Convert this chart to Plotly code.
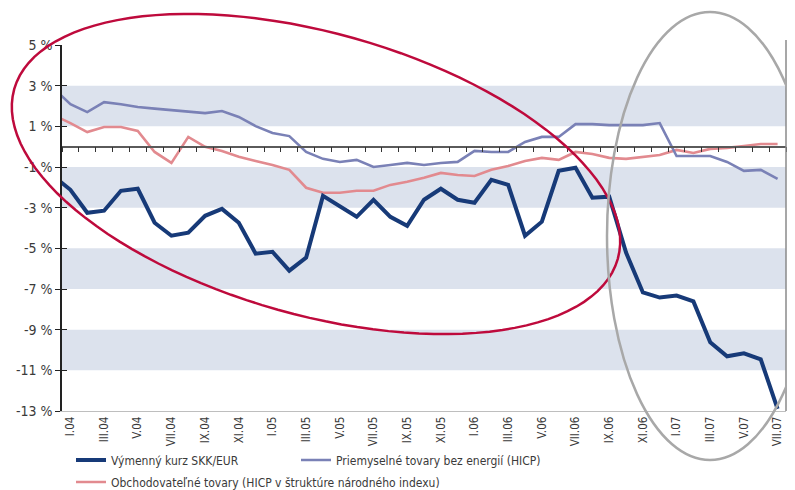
import numpy as np
import plotly.graph_objects as go

# ---------------- data ----------------
categories = ["XII.03",
              "I.04", "II.04", "III.04", "IV.04", "V.04", "VI.04", "VII.04", "VIII.04", "IX.04", "X.04", "XI.04", "XII.04",
              "I.05", "II.05", "III.05", "IV.05", "V.05", "VI.05", "VII.05", "VIII.05", "IX.05", "X.05", "XI.05", "XII.05",
              "I.06", "II.06", "III.06", "IV.06", "V.06", "VI.06", "VII.06", "VIII.06", "IX.06", "X.06", "XI.06", "XII.06",
              "I.07", "II.07", "III.07", "IV.07", "V.07", "VI.07", "VII.07"]

fx_skk_eur = [-1.45,
              -2.12, -3.25, -3.15, -2.17, -2.07, -3.74, -4.38, -4.23, -3.40, -3.06, -3.74, -5.26,
              -5.17, -6.10, -5.46, -2.42, -2.91, -3.45, -2.61, -3.45, -3.89, -2.61, -2.07, -2.61,
              -2.76, -1.63, -1.88, -4.38, -3.69, -1.19, -1.04, -2.51, -2.46, -5.21, -7.17, -7.42,
              -7.32, -7.61, -9.62, -10.31, -10.16, -10.46, -12.90]

industrial_goods = [2.87,
                    2.09, 1.70, 2.19, 2.09, 1.95, 1.87, 1.80, 1.73, 1.65, 1.75, 1.46, 1.01,
                    0.67, 0.52, -0.26, -0.60, -0.75, -0.65, -1.00, -0.90, -0.80, -0.90, -0.80, -0.75,
                    -0.21, -0.26, -0.26, 0.23, 0.48, 0.48, 1.11, 1.11, 1.06, 1.06, 1.06, 1.16,
                    -0.46, -0.46, -0.46, -0.75, -1.19, -1.14, -1.58]

tradable_goods = [1.55,
                  1.16, 0.72, 0.97, 0.97, 0.77, -0.26, -0.80, 0.48, -0.01, -0.21, -0.50, -0.70,
                  -0.90, -1.14, -2.02, -2.27, -2.27, -2.17, -2.17, -1.88, -1.73, -1.53, -1.29, -1.39,
                  -1.44, -1.14, -0.95, -0.70, -0.55, -0.65, -0.26, -0.36, -0.55, -0.60, -0.50, -0.41,
                  -0.16, -0.31, -0.11, -0.06, 0.03, 0.13, 0.13]

series_names = ["Výmenný kurz SKK/EUR",
                "Priemyselné tovary bez energií (HICP)",
                "Obchodovateľné tovary (HICP v štruktúre národného indexu)"]

y_ticks = [5, 3, 1, -1, -3, -5, -7, -9, -11, -13]
y_tick_labels = ["5 %", "3 %", "1 %", "-1 %", "-3 %", "-5 %", "-7 %", "-9 %", "-11 %", "-13 %"]
shaded_bands = [(1, 3), (-3, -1), (-7, -5), (-11, -9)]

# ---------------- figure ----------------
# page is 795x490; the html body adds an 8px margin, so the figure is 8px smaller
OFF = 8
W, H = 795 - OFF, 490 - OFF
PX_L, PX_R, PX_T, PX_B = 62, 786, 45, 411          # plot area in page pixels
L, R, T, B = PX_L - OFF, 795 - PX_R, PX_T - OFF, 490 - PX_B
pw, ph = PX_R - PX_L, PX_B - PX_T

FONT = "Liberation Sans Narrow, DejaVu Sans Condensed, Arial Narrow, sans-serif"
TXT = "#3a3a3a"

x_idx = list(range(-1, len(categories) - 1))
n_last = len(categories) - 2

fig = go.Figure()

fig.add_trace(go.Scatter(x=x_idx, y=tradable_goods, mode="lines", name=series_names[2],
                         line=dict(color="#E28A8F", width=2.6), legend="legend2"))
fig.add_trace(go.Scatter(x=x_idx, y=industrial_goods, mode="lines", name=series_names[1],
                         line=dict(color="#7A81B6", width=2.6), legend="legend3"))
fig.add_trace(go.Scatter(x=x_idx, y=fx_skk_eur, mode="lines", name=series_names[0],
                         line=dict(color="#173A78", width=4), legend="legend"))

# helper invisible traces to realise the zero-line axis and inner y ticks
fig.add_trace(go.Scatter(x=[0], y=[0], xaxis="x2", yaxis="y", mode="markers",
                         marker=dict(opacity=0), showlegend=False, hoverinfo="skip"))
fig.add_trace(go.Scatter(x=[0], y=[0], xaxis="x", yaxis="y2", mode="markers",
                         marker=dict(opacity=0), showlegend=False, hoverinfo="skip"))

xr = [-0.5, n_last + 0.5]
yr = [-13, 5]


def px2paper(px, py):
    return (px - PX_L) / pw, (PX_B - py) / ph


shapes = []
for lo, hi in shaded_bands:
    shapes.append(dict(type="rect", xref="paper", yref="y", x0=0, x1=1, y0=lo, y1=hi,
                       fillcolor="#DCE2ED", line=dict(width=0), layer="below"))
# right border line
shapes.append(dict(type="line", xref="paper", yref="paper", x0=1, x1=1,
                   y0=0, y1=px2paper(0, 40)[1], line=dict(color="#8a8a8a", width=1.5)))

# red tilted ellipse (annotation)
cx, cy, a, b, th = 316, 174, 313.5, 141, np.deg2rad(15.7)
t = np.linspace(0, 2 * np.pi, 121)
ex = cx + a * np.cos(t) * np.cos(th) - b * np.sin(t) * np.sin(th)
ey = cy + a * np.cos(t) * np.sin(th) + b * np.sin(t) * np.cos(th)
pts = [px2paper(u, v) for u, v in zip(ex, ey)]
path = "M " + " L ".join(f"{u:.5f},{v:.5f}" for u, v in pts) + " Z"
shapes.append(dict(type="path", xref="paper", yref="paper", path=path,
                   line=dict(color="#BE0A3C", width=2.5), layer="above"))

# gray ellipse (annotation)
gx0, gy0 = px2paper(607, 12)
gx1, gy1 = px2paper(813, 460)
shapes.append(dict(type="circle", xref="paper", yref="paper", x0=gx0, x1=gx1, y0=gy1, y1=gy0,
                   line=dict(color="#A8A8A8", width=2.5), layer="above"))

tick_idx = list(range(0, n_last + 1, 2))
tick_txt = [categories[i + 1] for i in tick_idx]

LEG_FONT = dict(size=12, color=TXT, family=FONT)


def legend_at(px, py):
    x, y = px2paper(px, py)
    return dict(orientation="h", x=x, xanchor="left", y=y, yanchor="middle",
                font=LEG_FONT, bgcolor="rgba(0,0,0,0)", itemwidth=30)


fig.update_layout(
    width=W, height=H,
    margin=dict(l=L, r=R, t=T, b=B, pad=0, autoexpand=False),
    paper_bgcolor="white", plot_bgcolor="rgba(0,0,0,0)",
    font=dict(family=FONT, size=14, color=TXT),
    xaxis=dict(range=xr, showgrid=False, zeroline=False, showline=True, linecolor="#BEBEBE",
               linewidth=1.2, tickmode="array", tickvals=tick_idx, ticktext=tick_txt,
               tickangle=-90, ticks="", tickfont=dict(size=11.5, color=TXT, family=FONT)),
    xaxis2=dict(range=xr, overlaying="x", anchor="free", position=13 / 18, showgrid=False,
                zeroline=False, showline=True, linecolor="#5a5a5a", linewidth=1.5,
                tickmode="array", tickvals=[i + 0.5 for i in range(-1, n_last + 1)],
                ticks="outside", ticklen=5, tickwidth=1, tickcolor="#333",
                showticklabels=False),
    yaxis=dict(range=yr, showgrid=False, zeroline=False, showline=True, linecolor="#222",
               linewidth=1.5, tickmode="array", tickvals=y_ticks, ticktext=y_tick_labels,
               ticks="outside", ticklen=5, tickwidth=1, tickcolor="#222",
               tickfont=dict(size=14, color=TXT, family=FONT)),
    yaxis2=dict(range=yr, overlaying="y", side="left", showgrid=False, zeroline=False,
                showline=False, tickmode="array", tickvals=y_ticks, ticks="inside",
                ticklen=5, tickwidth=1, tickcolor="#222", showticklabels=False),
    legend=legend_at(71, 460),
    legend3=legend_at(296, 460),
    legend2=legend_at(71, 482),
    shapes=shapes,
    showlegend=True,
)

fig.write_html("out.html")
